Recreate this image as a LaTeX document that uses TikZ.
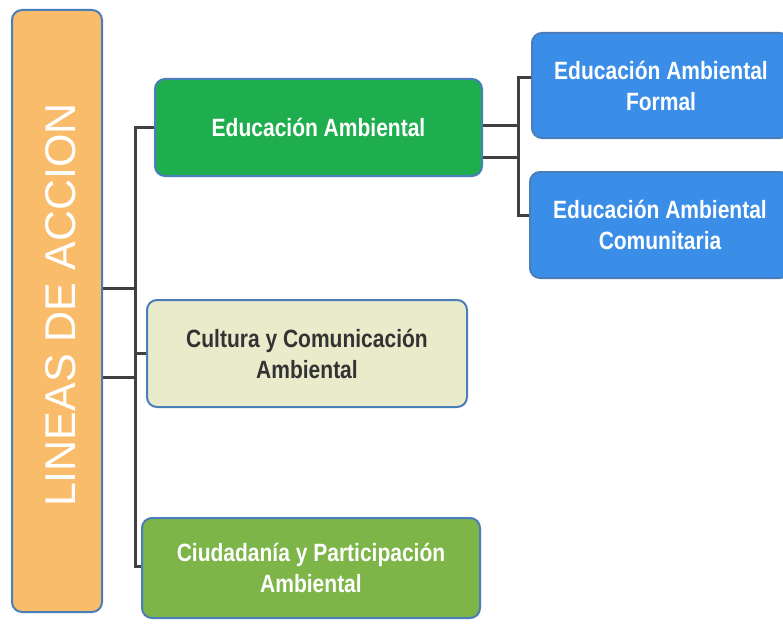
\documentclass[tikz,border=0pt]{standalone}
\usepackage{fontspec}
\setmainfont{Liberation Sans}
\newfontfamily\nb{Liberation Sans}[FakeStretch=0.84]
\definecolor{orangeF}{HTML}{F8BC6B}
\definecolor{greenF}{HTML}{1EAE4E}
\definecolor{blueF}{HTML}{3B8EE8}
\definecolor{beigeF}{HTML}{E9EBCB}
\definecolor{oliveF}{HTML}{7DB548}
\definecolor{edgeC}{HTML}{4A7EBB}
\definecolor{lineC}{HTML}{404040}
\definecolor{darkT}{HTML}{333333}
\begin{document}
\begin{tikzpicture}[x=1pt,y=-1pt,
  box/.style={draw=edgeC,line width=2pt,rounded corners=10pt,inner sep=0pt,align=center,
    font=\nb\bfseries\fontsize{25}{31}\selectfont},
  conn/.style={draw=lineC,line width=3pt}]
\useasboundingbox (0,0) rectangle (783,623);
\clip (0,0) rectangle (783,623);
\fill[white] (0,0) rectangle (783,623);
% boxes
\node[box,fill=orangeF,minimum width=90pt,minimum height=602pt] (O) at (57,311) {};
\node[rotate=90,text=white,font=\fontsize{43}{43}\selectfont] (OT) at (61,305) {LINEAS DE ACCION};
\node[box,fill=greenF,text=white,minimum width=327pt,minimum height=97pt] (G) at (318.5,127.5) {Educación Ambiental};
\node[box,fill=beigeF,text=darkT,minimum width=320pt,minimum height=107pt] (C) at (307,353.5) {Cultura y Comunicación\\Ambiental};
\node[box,fill=oliveF,text=white,minimum width=338pt,minimum height=100pt] (Z) at (311,568) {Ciudadanía y Participación\\Ambiental};
\node[box,fill=blueF,text=white,minimum width=258pt,minimum height=105pt] (B1) at (661,85.5) {Educación Ambiental\\Formal};
\node[box,fill=blueF,text=white,minimum width=260pt,minimum height=106pt] (B2) at (660,225) {Educación Ambiental\\Comunitaria};
% left trunk
\coordinate (tt) at (135,127.5);
\coordinate (tb) at (135,566);
\coordinate (o1) at (135,288);
\coordinate (o2) at (135,377);
\draw[conn] (G.west) -- (tt) -- (tb) -- (Z.west |- tb);
\draw[conn] (C.west) -- (C.west -| tt);
\draw[conn] (O.east |- o1) -- (o1);
\draw[conn] (O.east |- o2) -- (o2);
% right trunk
\coordinate (r1) at (518,125);
\coordinate (r2) at (518,157);
\coordinate (rt) at (518,78);
\coordinate (rb) at (518,215);
\draw[conn] (G.east |- r1) -- (r1);
\draw[conn] (G.east |- r2) -- (r2);
\draw[conn] (B1.west |- rt) -- (rt) -- (rb) -- (B2.west |- rb);
\end{tikzpicture}
\end{document}
